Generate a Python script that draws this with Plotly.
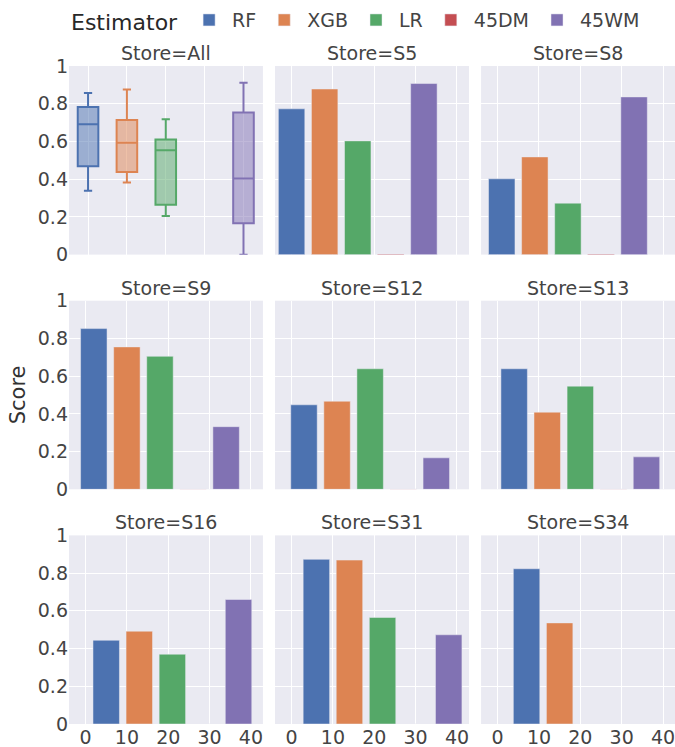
import plotly.graph_objects as go
from plotly.subplots import make_subplots

# Scores per estimator and store
estimators = ["RF", "XGB", "LR", "45DM", "45WM"]
stores = ["S5", "S8", "S9", "S12", "S13", "S16", "S31", "S34"]
scores = {
    "RF":   [0.773, 0.402, 0.852, 0.448, 0.639, 0.444, 0.873, 0.823],
    "XGB":  [0.878, 0.518, 0.755, 0.467, 0.409, 0.492, 0.869, 0.536],
    "LR":   [0.603, 0.273, 0.705, 0.639, 0.547, 0.370, 0.565, None],
    "45DM": [0.003, 0.003, 0.002, 0.002, 0.002, 0.0, 0.0, None],
    "45WM": [0.907, 0.836, 0.332, 0.167, 0.172, 0.660, 0.473, None],
}

# Summary over all stores (box statistics)
box_estimators = ["RF", "XGB", "LR", "45WM"]
box_positions = [0, 10, 20, 40]
box_lowerfence = [0.338, 0.382, 0.205, 0.0]
box_q1 = [0.468, 0.438, 0.264, 0.166]
box_median = [0.691, 0.593, 0.554, 0.404]
box_q3 = [0.782, 0.714, 0.611, 0.754]
box_upperfence = [0.857, 0.875, 0.718, 0.911]

colors = {
    "RF": "rgb(76,114,176)",
    "XGB": "rgb(221,132,82)",
    "LR": "rgb(85,168,104)",
    "45DM": "rgb(196,78,82)",
    "45WM": "rgb(129,114,179)",
}

panels = ["All"] + stores
FONT = "Verdana, DejaVu Sans, sans-serif"
TXT = "rgb(68,68,68)"

fig = make_subplots(
    rows=3, cols=3,
    horizontal_spacing=0.02, vertical_spacing=0.07,
    subplot_titles=[f"Store={p}" for p in panels],
)

# Box summary panel
for i, est in enumerate(box_estimators):
    fig.add_trace(go.Box(
        x=[box_positions[i]],
        lowerfence=[box_lowerfence[i]], q1=[box_q1[i]], median=[box_median[i]],
        q3=[box_q3[i]], upperfence=[box_upperfence[i]],
        name=est, legendgroup=est, showlegend=False,
        marker_color=colors[est], line_width=2, width=5.3, whiskerwidth=0.4,
    ), row=1, col=1)

# Per-store bars; x is the row number in the long (estimator, store) table
for e_idx, est in enumerate(estimators):
    for s_idx, store in enumerate(stores):
        val = scores[est][s_idx]
        if val is None:
            continue
        p = s_idx + 1
        fig.add_trace(go.Bar(
            x=[e_idx * len(stores) + s_idx], y=[val],
            name=est, legendgroup=est, showlegend=(s_idx == 0),
            marker=dict(color=colors[est], line=dict(color="rgb(234,234,242)", width=0.5)),
        ), row=p // 3 + 1, col=p % 3 + 1)

for k in range(9):
    r, c = k // 3 + 1, k % 3 + 1
    fig.update_xaxes(
        range=[-4.9, 45.0] if k == 0 else [-4.0, 42.9],
        tickvals=[0, 10, 20, 30, 40], showticklabels=(r == 3),
        row=r, col=c,
    )
    fig.update_yaxes(
        range=[0, 1], tickvals=[0, 0.2, 0.4, 0.6, 0.8, 1],
        showticklabels=(c == 1), row=r, col=c,
    )

fig.update_xaxes(showgrid=True, gridcolor="white", gridwidth=1, zeroline=False,
                 showline=False, ticks="", automargin=False,
                 ticklabeloverflow="allow",
                 tickfont=dict(size=19, color=TXT, family=FONT))
fig.update_yaxes(showgrid=True, gridcolor="white", gridwidth=1, zeroline=False,
                 showline=False, ticks="", automargin=False,
                 tickfont=dict(size=19, color=TXT, family=FONT))

for ann in fig.layout.annotations:
    ann.font = dict(size=19, color=TXT, family=FONT)

fig.add_annotation(
    text="Score", textangle=-90, xref="paper", yref="paper",
    x=(18.3 - 69) / 606, y=0.5, xanchor="center", yanchor="middle",
    showarrow=False,
    font=dict(size=21, color="rgb(50,50,50)", family=FONT),
)

fig.update_layout(
    width=675, height=747,
    margin=dict(l=69, r=0, t=66, b=23),
    paper_bgcolor="white", plot_bgcolor="rgb(234,234,242)",
    barmode="relative",
    font=dict(family=FONT, size=19, color=TXT),
    legend=dict(
        orientation="h", x=0, xanchor="left", y=1.069, yanchor="middle",
        title=dict(text="Estimator", font=dict(size=22, color="rgb(40,40,40)")),
        font=dict(size=19, color=TXT),
        itemwidth=36,
        traceorder="normal",
    ),
)

fig.write_html("out.html")
